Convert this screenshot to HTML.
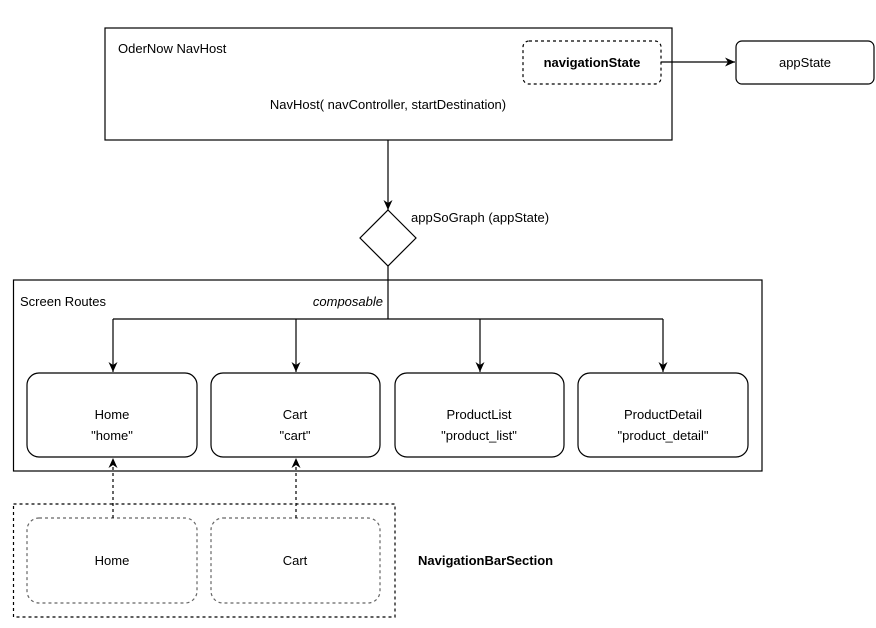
<!DOCTYPE html>
<html><head><meta charset="utf-8"><style>
html,body{margin:0;padding:0;background:#fff;}
svg{display:block;font-family:"Liberation Sans",Arial,sans-serif;font-size:13px;}
</style></head><body>
<svg width="876" height="628" viewBox="0 0 876 628" xmlns="http://www.w3.org/2000/svg">
<defs>
<marker id="a" markerWidth="12" markerHeight="12" refX="10" refY="6" orient="auto" markerUnits="userSpaceOnUse">
<path d="M0,1.5 L10,6 L0,10.5 L3,6 Z" fill="#000"/>
</marker>
</defs>
<g fill="none" stroke="#000" stroke-width="1.2">
<rect x="105" y="28" width="567" height="112" fill="#fff"/>
<rect x="523" y="41" width="138" height="43" rx="6" stroke-dasharray="3,3"/>
<rect x="736" y="41" width="138" height="43" rx="6"/>
<line x1="661" y1="62" x2="735" y2="62" marker-end="url(#a)"/>
<line x1="388" y1="140" x2="388" y2="210" marker-end="url(#a)"/>
<path d="M388,210 L416,238 L388,266 L360,238 Z" fill="#fff"/>
<rect x="13.5" y="280" width="748.5" height="191"/>
<line x1="388" y1="266" x2="388" y2="319"/>
<line x1="113" y1="319" x2="663" y2="319"/>
<line x1="113" y1="319" x2="113" y2="372" marker-end="url(#a)"/>
<line x1="296" y1="319" x2="296" y2="372" marker-end="url(#a)"/>
<line x1="480" y1="319" x2="480" y2="372" marker-end="url(#a)"/>
<line x1="663" y1="319" x2="663" y2="372" marker-end="url(#a)"/>
<rect x="27" y="373" width="170" height="84" rx="12"/>
<rect x="211" y="373" width="169" height="84" rx="12"/>
<rect x="395" y="373" width="169" height="84" rx="12"/>
<rect x="578" y="373" width="170" height="84" rx="12"/>
<rect x="13.5" y="504" width="381.5" height="113" stroke-dasharray="3,3"/>
<rect x="27" y="518" width="170" height="85" rx="12" stroke="#666" stroke-dasharray="3,3"/>
<rect x="211" y="518" width="169" height="85" rx="12" stroke="#666" stroke-dasharray="3,3"/>
<line x1="113" y1="518" x2="113" y2="458" stroke-dasharray="3,3" marker-end="url(#a)"/>
<line x1="296" y1="518" x2="296" y2="458" stroke-dasharray="3,3" marker-end="url(#a)"/>
</g>
<g fill="#000">
<text x="118" y="53">OderNow NavHost</text>
<text x="592" y="67" text-anchor="middle" font-weight="bold">navigationState</text>
<text x="805" y="67" text-anchor="middle">appState</text>
<text x="388" y="109" text-anchor="middle">NavHost( navController, startDestination)</text>
<text x="411" y="222">appSoGraph (appState)</text>
<text x="20" y="306">Screen Routes</text>
<text x="383" y="306" text-anchor="end" font-style="italic">composable</text>
<text x="112" y="419" text-anchor="middle">Home</text>
<text x="112" y="440" text-anchor="middle">"home"</text>
<text x="295" y="419" text-anchor="middle">Cart</text>
<text x="295" y="440" text-anchor="middle">"cart"</text>
<text x="479" y="419" text-anchor="middle">ProductList</text>
<text x="479" y="440" text-anchor="middle">"product_list"</text>
<text x="663" y="419" text-anchor="middle">ProductDetail</text>
<text x="663" y="440" text-anchor="middle">"product_detail"</text>
<text x="112" y="565" text-anchor="middle">Home</text>
<text x="295" y="565" text-anchor="middle">Cart</text>
<text x="418" y="565" font-weight="bold">NavigationBarSection</text>
</g>
</svg>
</body></html>
